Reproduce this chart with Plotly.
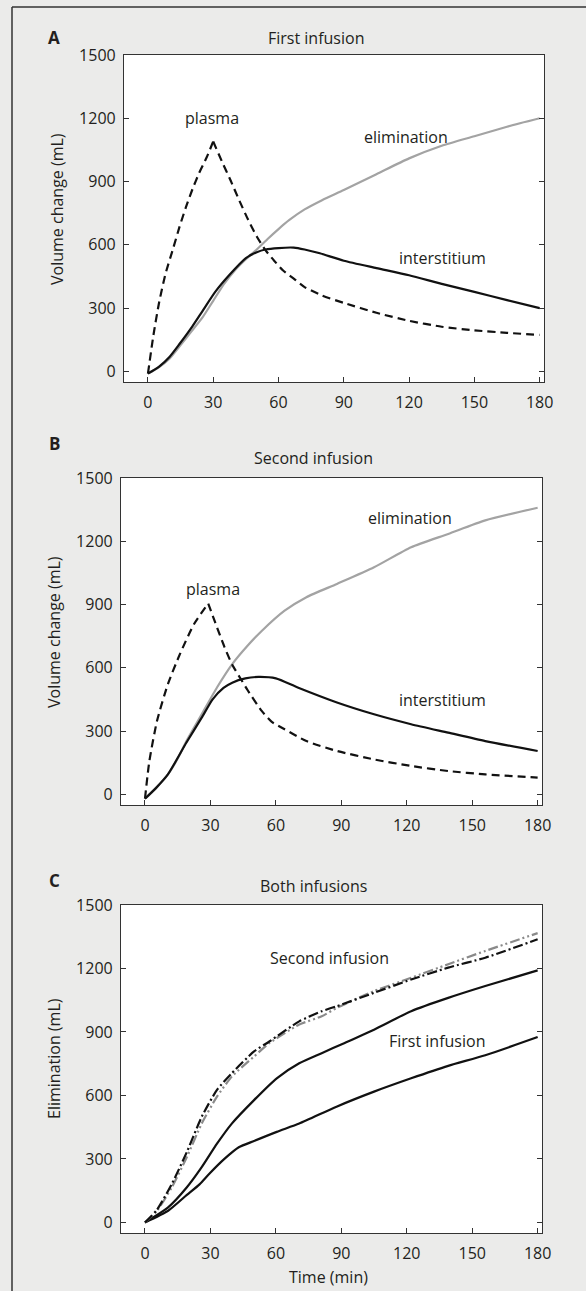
import plotly.graph_objects as go

W, H = 586, 1291

# ---------------- Panel A: First infusion ----------------
a_plasma_t = [0, 2.5, 5, 8, 11.5, 14.5, 17.5, 20.5, 23.5, 27, 30, 34, 38, 42, 46, 50, 54, 58, 62, 67, 72, 80, 90, 105, 120, 135, 150, 165, 180]
a_plasma_v = [-10, 170, 320, 460, 580, 685, 780, 865, 940, 1015, 1090, 995, 905, 810, 720, 640, 575, 525, 480, 440, 400, 360, 325, 278, 240, 212, 195, 183, 173]
a_plasma_peak = 10  # index of the infusion-end peak

a_elim_t = [0, 5, 10, 15, 20, 25, 30, 35, 40, 45, 50, 55, 60, 65, 72, 80, 90, 105, 120, 135, 150, 165, 180]
a_elim_v = [-10, 20, 62, 125, 190, 255, 335, 415, 480, 532, 578, 628, 675, 718, 768, 812, 860, 935, 1010, 1070, 1115, 1160, 1200]

a_inter_t = [0, 5, 10, 14.5, 20.5, 25, 31, 37.5, 45, 50, 54, 60, 67, 72, 79, 90, 105, 120, 135, 150, 165, 180]
a_inter_v = [-10, 22, 70, 130, 215, 285, 378, 458, 537, 565, 578, 585, 587, 578, 560, 525, 490, 456, 415, 377, 338, 300]

# ---------------- Panel B: Second infusion ----------------
b_plasma_t = [0, 2, 5.5, 10.5, 16, 22.5, 29, 32, 36.5, 40, 44, 47, 53.5, 58, 64, 74, 88, 105, 122, 139, 156, 180]
b_plasma_v = [-20, 158, 348, 523, 665, 808, 905, 820, 697, 615, 546, 495, 396, 345, 309, 253, 206, 166, 135, 111, 95, 80]
b_plasma_peak = 6

b_elim_t = [0, 5, 10.5, 15, 19, 26, 33, 40, 47, 53.5, 64, 74, 88, 105, 122, 139, 156, 180]
b_elim_v = [-20, 30, 95, 170, 253, 380, 507, 618, 705, 775, 871, 935, 998, 1077, 1172, 1235, 1299, 1359]

b_inter_t = [0, 5, 10.5, 19, 26, 31, 36, 40, 46, 52, 60, 70, 88, 105, 122, 139, 156, 180]
b_inter_v = [-20, 30, 95, 246, 364, 451, 505, 530, 550, 557, 550, 507, 436, 380, 333, 293, 253, 206]

# ---------------- Panel C: Both infusions ----------------
c_t = [0, 5.5, 12.3, 19.2, 26, 33, 39.8, 50, 57, 70.7, 81, 88, 105, 122, 139, 156, 180]
c_second_gray_v = [0, 55, 166, 309, 467, 594, 689, 784, 847, 935, 974, 1014, 1093, 1156, 1220, 1283, 1367]
c_second_black_v = [0, 60, 182, 333, 499, 626, 705, 808, 855, 950, 998, 1022, 1085, 1148, 1204, 1251, 1338]

c_first_t = [0, 10.6, 19.2, 26, 33, 39.8, 50, 60.4, 70.7, 81, 91.3, 105, 122, 139, 156, 180]
c_first_upper_v = [0, 71, 166, 261, 372, 467, 578, 681, 752, 800, 847, 911, 998, 1061, 1117, 1191]

c_first_lower_t = [0, 10.6, 19.2, 25, 29.5, 36.4, 43, 50, 60.4, 70.7, 87.8, 105, 122, 139, 156, 180]
c_first_lower_v = [0, 55, 130, 180, 230, 300, 355, 385, 428, 467, 547, 618, 681, 740, 790, 876]

x_ticks = [0, 30, 60, 90, 120, 150, 180]
y_ticks = [0, 300, 600, 900, 1200, 1500]

FONT = "Open Sans"
TXT = "#231f20"
BLACK = "#111111"
GRAY = "#a3a3a3"
GRAY2 = "#8a8a8a"

fig = go.Figure()

def add(x, y, xa, ya, color, width=2.2, dash="solid", shape="spline"):
    fig.add_trace(go.Scatter(x=x, y=y, xaxis=xa, yaxis=ya, mode="lines",
                             line=dict(color=color, width=width, dash=dash, shape=shape,
                                       smoothing=0.6 if shape == "spline" else None),
                             showlegend=False, hoverinfo="skip"))

def add_plasma(t, v, peak, xa, ya):
    # rising (during infusion) and falling parts drawn separately so the peak stays sharp
    add(t[:peak + 1], v[:peak + 1], xa, ya, BLACK, dash="8px,5px")
    add(t[peak:], v[peak:], xa, ya, BLACK, dash="8px,5px")

# A
add(a_elim_t, a_elim_v, "x", "y", GRAY)
add(a_inter_t, a_inter_v, "x", "y", BLACK)
add_plasma(a_plasma_t, a_plasma_v, a_plasma_peak, "x", "y")
# B
add(b_elim_t, b_elim_v, "x2", "y2", GRAY)
add(b_inter_t, b_inter_v, "x2", "y2", BLACK)
add_plasma(b_plasma_t, b_plasma_v, b_plasma_peak, "x2", "y2")
# C
add(c_first_t, c_first_upper_v, "x3", "y3", BLACK)
add(c_first_lower_t, c_first_lower_v, "x3", "y3", BLACK)
add(c_t, c_second_gray_v, "x3", "y3", GRAY2, dash="10px,3px,2px,3px,2px,3px")
add(c_t, c_second_black_v, "x3", "y3", BLACK, dash="10px,3px,2px,3px")

def px_x(v):
    return v / W

def px_y(v):
    return 1 - v / H

doms = {
    "A": ([124, 544], [55, 382]),
    "B": ([121, 542], [478, 805]),
    "C": ([121, 542], [905, 1233]),
}

axis_common = dict(showgrid=False, zeroline=False, showline=True, linecolor="#333333",
                   linewidth=1.2, ticks="inside", ticklen=5, tickcolor="#333333",
                   tickwidth=1.2, tickfont=dict(family=FONT, size=16, color=TXT),
                   automargin=False)

layout = dict(width=W, height=H, margin=dict(l=0, r=0, t=0, b=0),
              paper_bgcolor="#ebebea", plot_bgcolor="#ffffff",
              font=dict(family=FONT, size=16, color=TXT))

for i, key in enumerate(["A", "B", "C"]):
    (x0, x1), (y0, y1) = doms[key]
    sfx = "" if i == 0 else str(i + 1)
    layout["xaxis" + sfx] = dict(axis_common, domain=[px_x(x0), px_x(x1)], range=[-11, 182],
                                 tickvals=x_ticks, mirror=True, ticklabelstandoff=6,
                                 anchor="y" + sfx)
    layout["yaxis" + sfx] = dict(axis_common, domain=[px_y(y1), px_y(y0)], range=[-50, 1500],
                                 tickvals=y_ticks, mirror="ticks", ticklabelstandoff=4,
                                 anchor="x" + sfx)

fig.update_layout(**layout)

ann = []
def text(x, y, s, xref="paper", yref="paper", size=16, bold=False, angle=0):
    ann.append(dict(x=x, y=y, xref=xref, yref=yref, text=("<b>%s</b>" % s) if bold else s,
                    showarrow=False, xanchor="center", yanchor="middle", textangle=angle,
                    font=dict(family=FONT, size=size, color=TXT)))

# panel letters and titles
text(px_x(54), px_y(38), "A", size=17, bold=True)
text(px_x(316), px_y(38), "First infusion")
text(px_x(54), px_y(443), "B", size=17, bold=True)
text(px_x(313), px_y(458), "Second infusion")
text(px_x(54), px_y(880), "C", size=17, bold=True)
text(px_x(313), px_y(886), "Both infusions")

# axis titles
text(px_x(57), px_y(209), "Volume change (mL)", angle=-90)
text(px_x(54), px_y(632), "Volume change (mL)", angle=-90)
text(px_x(54), px_y(1059), "Elimination (mL)", angle=-90)
text(px_x(328), px_y(1277), "Time (min)")

# curve labels
text(29.6, 1200, "plasma", "x", "y")
text(118.6, 1109, "elimination", "x", "y")
text(135.4, 538, "interstitium", "x", "y")
text(31.2, 974, "plasma", "x2", "y2")
text(121.3, 1312, "elimination", "x2", "y2")
text(136.2, 447, "interstitium", "x2", "y2")
text(84.4, 1251, "Second infusion", "x3", "y3")
text(133.8, 858, "First infusion", "x3", "y3")

fig.update_layout(annotations=ann)

# outer frame (top and left edges)
fig.add_shape(type="line", xref="paper", yref="paper", x0=px_x(12), x1=1.0,
              y0=px_y(7), y1=px_y(7), line=dict(color="#333333", width=1.5))
fig.add_shape(type="line", xref="paper", yref="paper", x0=px_x(12), x1=px_x(12),
              y0=px_y(7), y1=0.0, line=dict(color="#333333", width=1.5))

fig.write_html("out.html", config={"displayModeBar": False},
               post_script="document.body.style.margin='0';document.body.style.overflow='hidden';")
